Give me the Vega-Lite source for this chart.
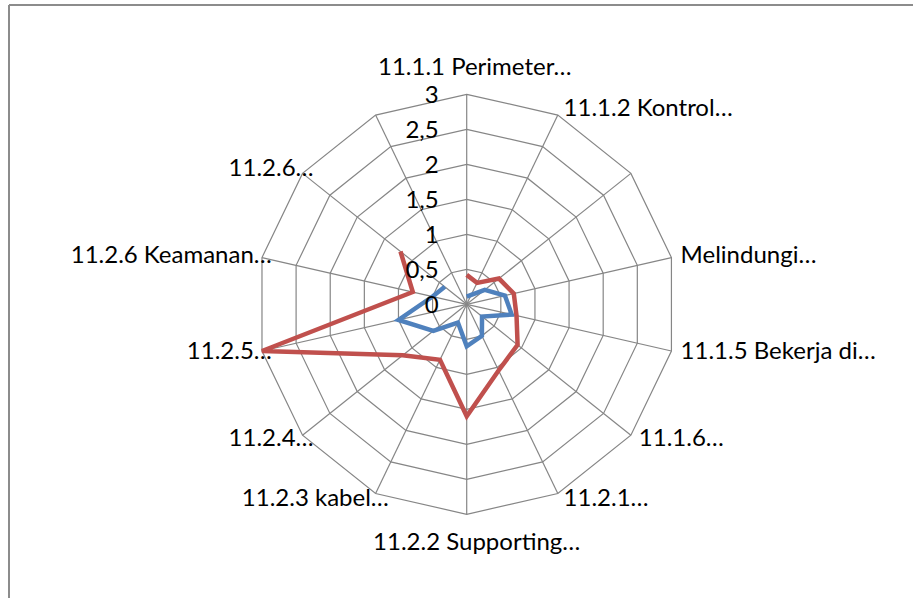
{
  "$schema": "https://vega.github.io/schema/vega-lite/v6.json",
  "width": 904,
  "height": 593,
  "autosize": {"type": "none"},
  "padding": {"left": 9, "top": 5, "right": 0, "bottom": 0},
  "background": "white",
  "config": {
    "view": {"stroke": null},
    "text": {"font": "Lato", "fontSize": 24, "color": "#000000"}
  },
  "datasets": {
    "frame": [{"top": 4.276, "left": -6.539}],
    "cats": [
      {"i": 0, "label": "11.1.1 Perimeter…", "levels": [0.5, 1, 1.5, 2, 2.5, 3]},
      {"i": 1, "label": "11.1.2 Kontrol…", "levels": [0.5, 1, 1.5, 2, 2.5, 3]},
      {"i": 2, "label": "", "levels": [0.5, 1, 1.5, 2, 2.5, 3]},
      {"i": 3, "label": "Melindungi…", "levels": [0.5, 1, 1.5, 2, 2.5, 3]},
      {"i": 4, "label": "11.1.5 Bekerja di…", "levels": [0.5, 1, 1.5, 2, 2.5, 3]},
      {"i": 5, "label": "11.1.6…", "levels": [0.5, 1, 1.5, 2, 2.5, 3]},
      {"i": 6, "label": "11.2.1…", "levels": [0.5, 1, 1.5, 2, 2.5, 3]},
      {"i": 7, "label": "11.2.2 Supporting…", "levels": [0.5, 1, 1.5, 2, 2.5, 3]},
      {"i": 8, "label": "11.2.3 kabel…", "levels": [0.5, 1, 1.5, 2, 2.5, 3]},
      {"i": 9, "label": "11.2.4…", "levels": [0.5, 1, 1.5, 2, 2.5, 3]},
      {"i": 10, "label": "11.2.5…", "levels": [0.5, 1, 1.5, 2, 2.5, 3]},
      {"i": 11, "label": "11.2.6 Keamanan…", "levels": [0.5, 1, 1.5, 2, 2.5, 3]},
      {"i": 12, "label": "11.2.6…", "levels": [0.5, 1, 1.5, 2, 2.5, 3]},
      {"i": 13, "label": "", "levels": [0.5, 1, 1.5, 2, 2.5, 3]}
    ],
    "ticks": [
      {"v": 0, "t": "0"},
      {"v": 0.5, "t": "0,5"},
      {"v": 1, "t": "1"},
      {"v": 1.5, "t": "1,5"},
      {"v": 2, "t": "2"},
      {"v": 2.5, "t": "2,5"},
      {"v": 3, "t": "3"}
    ],
    "vals": [
      {"i": 0, "s": "Seri 1", "v": 0.11},
      {"i": 1, "s": "Seri 1", "v": 0.15},
      {"i": 2, "s": "Seri 1", "v": 0.33},
      {"i": 3, "s": "Seri 1", "v": 0.56},
      {"i": 4, "s": "Seri 1", "v": 0.66},
      {"i": 5, "s": "Seri 1", "v": 0.28},
      {"i": 6, "s": "Seri 1", "v": 0.5},
      {"i": 7, "s": "Seri 1", "v": 0.6},
      {"i": 8, "s": "Seri 1", "v": 0.29},
      {"i": 9, "s": "Seri 1", "v": 0.61},
      {"i": 10, "s": "Seri 1", "v": 1.0},
      {"i": 11, "s": "Seri 1", "v": 0.5},
      {"i": 12, "s": "Seri 1", "v": 0.4},
      {"i": 0, "s": "Seri 2", "v": 0.42},
      {"i": 1, "s": "Seri 2", "v": 0.34},
      {"i": 2, "s": "Seri 2", "v": 0.59},
      {"i": 3, "s": "Seri 2", "v": 0.69},
      {"i": 4, "s": "Seri 2", "v": 0.73},
      {"i": 5, "s": "Seri 2", "v": 0.93},
      {"i": 6, "s": "Seri 2", "v": 1.05},
      {"i": 7, "s": "Seri 2", "v": 1.6},
      {"i": 8, "s": "Seri 2", "v": 0.88},
      {"i": 9, "s": "Seri 2", "v": 1.17},
      {"i": 10, "s": "Seri 2", "v": 3.0},
      {"i": 11, "s": "Seri 2", "v": 0.79},
      {"i": 12, "s": "Seri 2", "v": 1.21}
    ]
  },
  "layer": [
    {
      "data": {"name": "frame"},
      "mark": {"type": "rule", "color": "#8c8c8c", "strokeWidth": 2},
      "encoding": {
        "y": {"field": "top", "type": "quantitative", "scale": {"domain": [-4.196, 4.276], "nice": false, "zero": false}, "axis": null}
      }
    },
    {
      "data": {"name": "frame"},
      "mark": {"type": "rule", "color": "#8c8c8c", "strokeWidth": 2},
      "encoding": {
        "x": {"field": "left", "type": "quantitative", "scale": {"domain": [-6.539, 6.376], "nice": false, "zero": false}, "axis": null}
      }
    },
    {
      "data": {"name": "cats"},
      "transform": [
        {"flatten": ["levels"], "as": ["level"]},
        {"calculate": "datum.i*2*PI/14", "as": "a"},
        {"calculate": "datum.level*sin(datum.a)", "as": "gx"},
        {"calculate": "datum.level*cos(datum.a)", "as": "gy"}
      ],
      "mark": {"type": "line", "interpolate": "linear-closed", "color": "#868686", "strokeWidth": 1.2},
      "encoding": {
        "x": {"field": "gx", "type": "quantitative", "scale": {"domain": [-6.539, 6.376], "nice": false, "zero": false}, "axis": null},
        "y": {"field": "gy", "type": "quantitative", "scale": {"domain": [-4.196, 4.276], "nice": false, "zero": false}, "axis": null},
        "detail": {"field": "level", "type": "nominal"},
        "order": {"field": "i", "type": "quantitative"}
      }
    },
    {
      "data": {"name": "cats"},
      "transform": [
        {"calculate": "datum.i*2*PI/14", "as": "a"},
        {"calculate": "3*sin(datum.a)", "as": "sx"},
        {"calculate": "3*cos(datum.a)", "as": "sy"}
      ],
      "mark": {"type": "rule", "color": "#868686", "strokeWidth": 1.2},
      "encoding": {
        "x": {"field": "sx", "type": "quantitative", "scale": {"domain": [-6.539, 6.376], "nice": false, "zero": false}, "axis": null},
        "y": {"field": "sy", "type": "quantitative", "scale": {"domain": [-4.196, 4.276], "nice": false, "zero": false}, "axis": null},
        "x2": {"datum": 0},
        "y2": {"datum": 0}
      }
    },
    {
      "data": {"name": "vals"},
      "transform": [
        {"filter": "datum.s === 'Seri 1'"},
        {"calculate": "datum.i*2*PI/14", "as": "a"},
        {"calculate": "datum.v*sin(datum.a)", "as": "px"},
        {"calculate": "datum.v*cos(datum.a)", "as": "py"}
      ],
      "mark": {"type": "line", "color": "#4F81BD", "strokeWidth": 4.5},
      "encoding": {
        "x": {"field": "px", "type": "quantitative", "scale": {"domain": [-6.539, 6.376], "nice": false, "zero": false}, "axis": null},
        "y": {"field": "py", "type": "quantitative", "scale": {"domain": [-4.196, 4.276], "nice": false, "zero": false}, "axis": null},
        "order": {"field": "i", "type": "quantitative"}
      }
    },
    {
      "data": {"name": "vals"},
      "transform": [
        {"filter": "datum.s === 'Seri 2'"},
        {"calculate": "datum.i*2*PI/14", "as": "a"},
        {"calculate": "datum.v*sin(datum.a)", "as": "px"},
        {"calculate": "datum.v*cos(datum.a)", "as": "py"}
      ],
      "mark": {"type": "line", "color": "#C0504D", "strokeWidth": 4.5},
      "encoding": {
        "x": {"field": "px", "type": "quantitative", "scale": {"domain": [-6.539, 6.376], "nice": false, "zero": false}, "axis": null},
        "y": {"field": "py", "type": "quantitative", "scale": {"domain": [-4.196, 4.276], "nice": false, "zero": false}, "axis": null},
        "order": {"field": "i", "type": "quantitative"}
      }
    },
    {
      "data": {"name": "ticks"},
      "mark": {"type": "text", "align": "right", "baseline": "middle", "dx": -28, "dy": 2},
      "encoding": {
        "x": {"datum": 0, "type": "quantitative", "scale": {"domain": [-6.539, 6.376], "nice": false, "zero": false}, "axis": null},
        "y": {"field": "v", "type": "quantitative", "scale": {"domain": [-4.196, 4.276], "nice": false, "zero": false}, "axis": null},
        "text": {"field": "t"}
      }
    },
    {
      "data": {"name": "cats"},
      "transform": [
        {"filter": "datum.i >= 1 && datum.i <= 6"},
        {"calculate": "datum.i*2*PI/14", "as": "a"},
        {"calculate": "3.09*sin(datum.a)", "as": "lx"},
        {"calculate": "3.09*cos(datum.a)", "as": "ly"}
      ],
      "mark": {"type": "text", "align": "left", "baseline": "middle", "dx": 3},
      "encoding": {
        "x": {"field": "lx", "type": "quantitative", "scale": {"domain": [-6.539, 6.376], "nice": false, "zero": false}, "axis": null},
        "y": {"field": "ly", "type": "quantitative", "scale": {"domain": [-4.196, 4.276], "nice": false, "zero": false}, "axis": null},
        "text": {"field": "label"}
      }
    },
    {
      "data": {"name": "cats"},
      "transform": [
        {"filter": "datum.i >= 8"},
        {"calculate": "datum.i*2*PI/14", "as": "a"},
        {"calculate": "3.09*sin(datum.a)", "as": "lx"},
        {"calculate": "3.09*cos(datum.a)", "as": "ly"}
      ],
      "mark": {"type": "text", "align": "right", "baseline": "middle", "dx": 16},
      "encoding": {
        "x": {"field": "lx", "type": "quantitative", "scale": {"domain": [-6.539, 6.376], "nice": false, "zero": false}, "axis": null},
        "y": {"field": "ly", "type": "quantitative", "scale": {"domain": [-4.196, 4.276], "nice": false, "zero": false}, "axis": null},
        "text": {"field": "label"}
      }
    },
    {
      "data": {"name": "cats"},
      "transform": [
        {"filter": "datum.i === 0"}
      ],
      "mark": {"type": "text", "align": "center", "baseline": "middle", "dx": 8, "dy": -26},
      "encoding": {
        "x": {"datum": 0, "type": "quantitative", "scale": {"domain": [-6.539, 6.376], "nice": false, "zero": false}, "axis": null},
        "y": {"datum": 3, "type": "quantitative", "scale": {"domain": [-4.196, 4.276], "nice": false, "zero": false}, "axis": null},
        "text": {"field": "label"}
      }
    },
    {
      "data": {"name": "cats"},
      "transform": [
        {"filter": "datum.i === 7"}
      ],
      "mark": {"type": "text", "align": "center", "baseline": "middle", "dx": 10, "dy": 29},
      "encoding": {
        "x": {"datum": 0, "type": "quantitative", "scale": {"domain": [-6.539, 6.376], "nice": false, "zero": false}, "axis": null},
        "y": {"datum": -3, "type": "quantitative", "scale": {"domain": [-4.196, 4.276], "nice": false, "zero": false}, "axis": null},
        "text": {"field": "label"}
      }
    }
  ]
}
